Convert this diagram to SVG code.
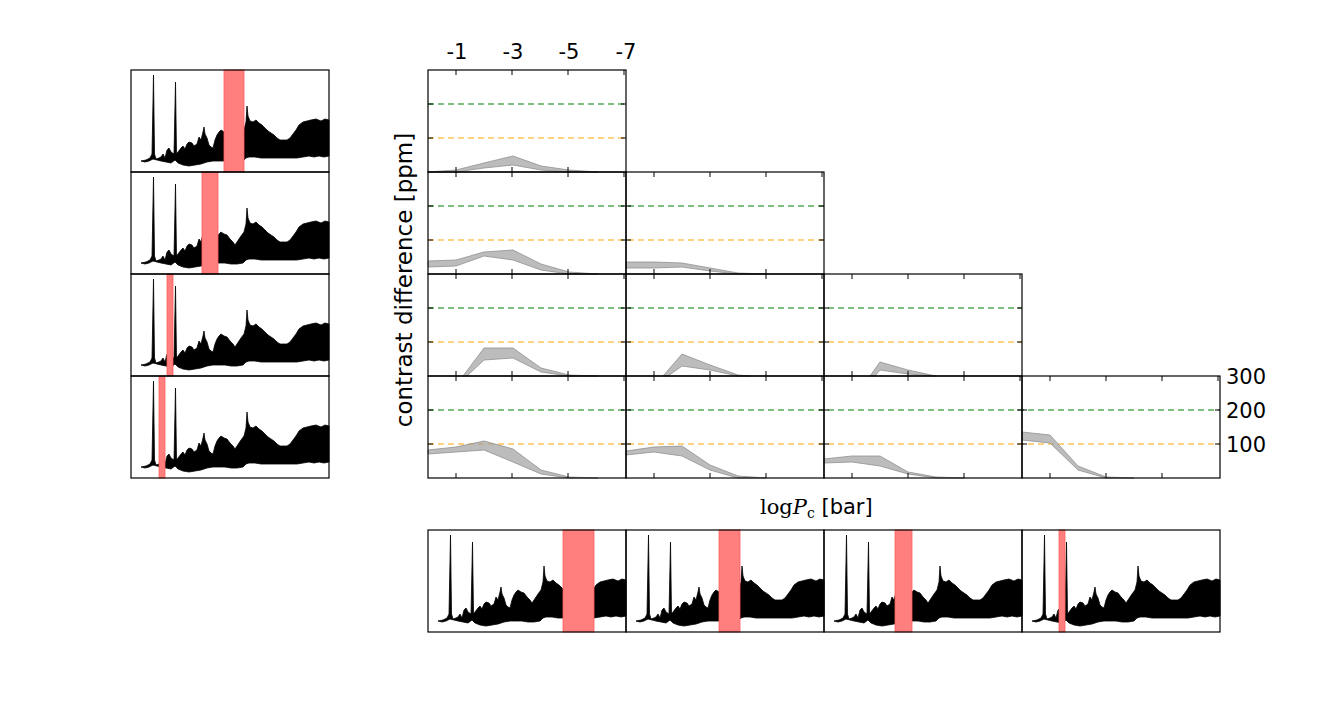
<svg xmlns="http://www.w3.org/2000/svg" width="1334" height="703" viewBox="0 0 1334 703">
<style>
.ax{fill:none;stroke:#000;stroke-width:1.2}
.g{stroke:green;stroke-width:1.2;stroke-dasharray:6,4;fill:none}
.o{stroke:orange;stroke-width:1.2;stroke-dasharray:6,4;fill:none}
.f{fill:#a0a0a0;fill-opacity:0.7;stroke:#909090;stroke-width:0.8}
.r{fill:#ff7f7f;stroke:#ff6060;stroke-width:0.8}
.t{font-family:"DejaVu Sans",sans-serif;font-size:21px;fill:#000}
.tk{stroke:#000;stroke-width:1}
</style>
<defs>
<path id="sp" d="M10,91 L15,90 L19,88 L21,84 L22.5,5 L23.5,84 L25,89 L28,88 L30,87 L32,84 L34,88 L36,80 L38,78 L40,82 L43,84 L44.5,12 L45.5,84 L47,82 L50,78 L52,76 L54,79 L56,74 L58,72 L61,73 L63,76 L66,74 L68,67 L70,70 L72,62 L73,57 L74,64 L76,68 L78,75 L80,77 L82,78 L84,70 L86,65 L88,62 L90,60 L93,62 L96,63 L99,67 L102,70 L104,73 L106,70 L108,67 L110,64 L113,60 L115,52 L116,36 L117,46 L119,51 L122,52 L125,50 L128,53 L131,55 L134,58 L137,61 L140,63 L143,65 L146,68 L149,70 L152,70 L156,70 L159,68 L162,64 L165,60 L168,55 L172,52 L176,51 L180,50 L185,49 L190,51 L194,49 L198,50 L198,86 L193,87 L188,86 L183,87 L178,86 L172,87 L166,88 L160,88 L154,88 L148,88 L142,88 L136,88 L130,88 L124,87 L118,87 L115,88 L112,91 L106,92 L100,92 L94,91 L88,91 L82,91 L76,92 L70,94 L64,95 L58,96 L52,95 L47,93 L44,90 L40,93 L35,92 L30,91 L26,90 L22,89 L18,91 L14,92 Z" fill="#000" stroke="#000" stroke-width="0.8" stroke-linejoin="round"/>
<g id="tk">
<path class="tk" d="M28,0v5M84,0v5M140,0v5M196,0v5M28,102v-5M84,102v-5M140,102v-5M0,34h5M0,68h5M198,34h-5M198,68h-5"/>
</g>
</defs>
<g id="left">
<use href="#sp" x="131" y="70"/><rect class="r" x="224" y="70" width="20" height="102"/>
<use href="#sp" x="131" y="172"/><rect class="r" x="202" y="172" width="16" height="102"/>
<use href="#sp" x="131" y="274"/><rect class="r" x="167" y="274" width="6" height="102"/>
<use href="#sp" x="131" y="376"/><rect class="r" x="159" y="376" width="6" height="102"/>
<rect class="ax" x="131" y="70" width="198" height="102"/>
<rect class="ax" x="131" y="172" width="198" height="102"/>
<rect class="ax" x="131" y="274" width="198" height="102"/>
<rect class="ax" x="131" y="376" width="198" height="102"/>
</g>
<g id="bottom">
<use href="#sp" x="428" y="530"/><rect class="r" x="563" y="530" width="31" height="102"/>
<use href="#sp" x="626" y="530"/><rect class="r" x="719" y="530" width="21" height="102"/>
<use href="#sp" x="824" y="530"/><rect class="r" x="895" y="530" width="17" height="102"/>
<use href="#sp" x="1022" y="530"/><rect class="r" x="1059" y="530" width="6" height="102"/>
<rect class="ax" x="428" y="530" width="198" height="102"/>
<rect class="ax" x="626" y="530" width="198" height="102"/>
<rect class="ax" x="824" y="530" width="198" height="102"/>
<rect class="ax" x="1022" y="530" width="198" height="102"/>
</g>
<g id="grid">
<path class="g" d="M428,104h198M428,206h396M428,308h594M428,410h792"/>
<path class="o" d="M428,138h198M428,240h396M428,342h594M428,444h792"/>
<polygon class="f" points="428,172 456,170 484,163 513,156 541,166 569,170 598,172 569,172 541,170 513,165 484,168 456,172"/>
<polygon class="f" points="428,261 456,260 484,252 513,250 541,264 569,272 598,274 569,274 541,270 513,260 484,256 456,266 428,267"/>
<polygon class="f" points="626,262 654,262 682,263 710,268 738,273 766,274 738,274 710,271 682,267 654,268 626,268"/>
<polygon class="f" points="463,376 484,348 513,348 541,368 569,375 598,376 569,376 541,372 513,358 484,360 467,376"/>
<polygon class="f" points="663,376 682,354 710,365 738,375 750,376 738,376 710,370 682,366 668,376"/>
<polygon class="f" points="870,376 880,362 908,370 936,376 908,374 880,370 875,376"/>
<polygon class="f" points="428,450 456,447 484,441 513,449 541,470 569,477 598,478 569,478 541,474 513,462 484,450 456,452 428,454"/>
<polygon class="f" points="626,451 654,447 682,446 710,465 738,476 766,478 738,478 710,470 682,456 654,452 626,455"/>
<polygon class="f" points="824,459 852,456 880,456 908,472 936,477 964,478 936,478 908,474 880,466 852,462 824,463"/>
<polygon class="f" points="1022,432 1050,435 1078,466 1106,477 1134,478 1106,478 1078,470 1050,443 1022,440"/>
<use href="#tk" x="428" y="70"/>
<use href="#tk" x="428" y="172"/><use href="#tk" x="626" y="172"/>
<use href="#tk" x="428" y="274"/><use href="#tk" x="626" y="274"/><use href="#tk" x="824" y="274"/>
<use href="#tk" x="428" y="376"/><use href="#tk" x="626" y="376"/><use href="#tk" x="824" y="376"/><use href="#tk" x="1022" y="376"/>
<rect class="ax" x="428" y="70" width="198" height="102"/>
<rect class="ax" x="428" y="172" width="198" height="102"/><rect class="ax" x="626" y="172" width="198" height="102"/>
<rect class="ax" x="428" y="274" width="198" height="102"/><rect class="ax" x="626" y="274" width="198" height="102"/><rect class="ax" x="824" y="274" width="198" height="102"/>
<rect class="ax" x="428" y="376" width="198" height="102"/><rect class="ax" x="626" y="376" width="198" height="102"/><rect class="ax" x="824" y="376" width="198" height="102"/><rect class="ax" x="1022" y="376" width="198" height="102"/>
</g>
<g id="labels" class="t">
<text x="457" y="59" text-anchor="middle">-1</text>
<text x="513" y="59" text-anchor="middle">-3</text>
<text x="569" y="59" text-anchor="middle">-5</text>
<text x="626" y="59" text-anchor="middle">-7</text>
<text x="1226" y="384">300</text>
<text x="1226" y="418">200</text>
<text x="1226" y="452">100</text>
<text transform="translate(412,280) rotate(-90)" text-anchor="middle" font-size="23">contrast difference [ppm]</text>
<text x="760" y="514" style="font-family:'DejaVu Serif',serif">log<tspan font-style="italic">P</tspan><tspan font-size="14" dy="4">c</tspan><tspan dy="-4" style="font-family:'DejaVu Sans',sans-serif"> [bar]</tspan></text>
</g>
</svg>
